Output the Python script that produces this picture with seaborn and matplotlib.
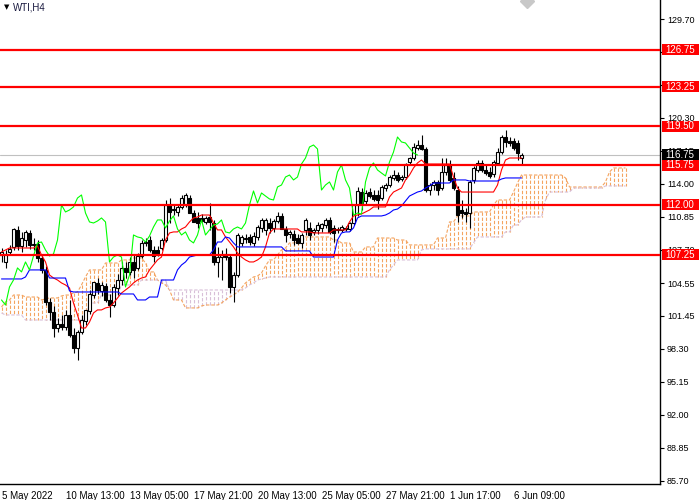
import numpy as np
import pandas as pd
import matplotlib
matplotlib.use("Agg")
import matplotlib.pyplot as plt
import matplotlib.transforms as mtransforms
from matplotlib.patches import Rectangle
import seaborn as sns

symbol = "WTI,H4"

# H4 candles, oldest first
opens = [107.22, 106.56, 107.51, 107.99, 109.61, 108.08, 108.65, 109.32, 108.18, 108.27,
         106.94, 105.80, 102.75, 101.80, 100.27, 100.65, 100.37, 101.51, 99.61, 98.37,
         99.89, 100.94, 101.89, 103.41, 104.56, 103.80, 104.27, 102.94, 102.46, 104.08,
         104.84, 105.99, 105.61, 106.56, 105.99, 107.13, 108.37, 108.65, 107.70, 107.70,
         107.89, 108.65, 111.99, 111.60, 111.32, 111.80, 111.99, 112.65, 111.22, 110.75,
         110.75, 110.37, 110.84, 110.27, 106.56, 107.03, 107.32, 107.03, 104.18, 105.32,
         108.37, 108.75, 108.94, 108.37, 108.94, 109.80, 109.61, 110.27, 109.80, 110.46,
         110.94, 109.70, 109.22, 109.22, 108.85, 108.37, 109.61, 109.80, 109.42, 109.61,
         109.80, 110.08, 110.56, 109.80, 109.61, 109.61, 109.80, 109.70, 110.27, 111.99,
         113.22, 112.37, 113.22, 112.94, 112.94, 112.65, 113.60, 113.89, 114.56, 114.84,
         114.46, 114.65, 116.08, 116.46, 117.41, 117.70, 117.32, 113.41, 113.89, 114.18,
         113.60, 115.13, 115.80, 114.56, 113.41, 111.51, 111.32, 111.22, 114.37, 115.32,
         115.99, 115.32, 115.13, 114.94, 115.99, 117.03, 118.46, 118.08, 118.08, 117.89,
         116.46]
highs = [107.89, 107.70, 108.18, 109.80, 109.99, 109.42, 109.61, 109.61, 108.85, 108.65,
         107.22, 106.18, 103.13, 102.37, 101.22, 101.51, 101.99, 102.94, 100.27, 100.08,
         101.51, 101.99, 103.89, 104.65, 105.03, 104.65, 104.56, 103.51, 104.46, 105.41,
         106.56, 106.56, 107.03, 107.22, 107.41, 108.65, 108.85, 109.03, 108.08, 108.08,
         108.85, 112.46, 112.65, 111.99, 112.08, 112.94, 113.13, 112.94, 111.51, 111.32,
         111.13, 110.94, 112.18, 110.56, 107.99, 107.70, 107.89, 107.32, 105.61, 109.32,
         109.13, 109.22, 109.22, 109.42, 110.08, 110.75, 110.75, 110.75, 110.65, 111.32,
         111.22, 109.99, 109.61, 109.61, 109.22, 109.32, 110.75, 110.37, 109.80, 110.37,
         110.27, 110.75, 110.84, 110.08, 109.89, 110.08, 109.99, 110.37, 112.08, 113.70,
         113.60, 113.41, 113.60, 113.41, 113.41, 113.89, 114.08, 114.84, 115.32, 115.13,
         114.84, 115.99, 116.56, 117.89, 118.18, 118.65, 117.51, 114.08, 114.37, 114.37,
         116.46, 116.46, 116.27, 115.13, 113.80, 112.46, 111.70, 114.37, 115.70, 116.27,
         116.27, 115.80, 115.61, 116.27, 117.41, 118.65, 119.13, 118.46, 118.37, 118.18,
         116.94]
lows = [106.56, 105.99, 107.22, 107.70, 107.70, 107.51, 107.99, 107.80, 107.70, 106.56,
        105.51, 102.46, 101.03, 99.42, 99.89, 100.08, 100.08, 99.42, 97.89, 97.22,
        99.70, 100.56, 101.61, 103.13, 103.51, 103.32, 102.75, 101.32, 102.27, 103.41,
        104.37, 105.03, 105.32, 105.03, 105.80, 106.94, 108.08, 107.51, 106.56, 107.13,
        107.70, 108.46, 110.27, 111.03, 110.94, 111.60, 111.80, 111.22, 110.37, 109.80,
        110.37, 110.18, 109.61, 106.27, 105.13, 104.84, 106.75, 103.60, 102.75, 105.13,
        108.08, 108.37, 108.18, 108.08, 108.65, 109.42, 109.13, 109.32, 109.42, 110.27,
        109.70, 108.46, 108.85, 108.18, 108.27, 107.89, 109.13, 108.65, 109.13, 109.22,
        109.42, 109.80, 109.22, 108.46, 109.32, 109.42, 109.51, 109.51, 110.08, 110.94,
        111.51, 112.08, 112.65, 112.37, 111.60, 112.46, 113.32, 113.70, 114.37, 114.18,
        114.27, 114.46, 115.80, 116.27, 117.22, 117.22, 113.22, 112.94, 113.41, 112.94,
        113.41, 114.84, 114.18, 113.41, 110.37, 110.75, 110.37, 109.80, 114.08, 115.13,
        115.13, 114.84, 114.56, 114.65, 115.80, 116.84, 117.51, 117.60, 117.22, 116.27,
        115.80]
closes = [107.51, 107.32, 107.80, 109.70, 108.08, 108.85, 109.42, 108.18, 108.27, 106.94,
          105.80, 102.75, 101.80, 100.27, 100.65, 100.37, 101.51, 99.61, 98.37, 99.89,
          101.03, 101.99, 103.51, 104.65, 103.89, 104.37, 102.94, 102.46, 104.18, 104.84,
          105.99, 105.61, 106.56, 105.80, 107.13, 108.37, 108.46, 107.70, 107.13, 107.32,
          108.65, 111.99, 111.32, 111.51, 111.80, 112.65, 112.94, 111.22, 110.37, 110.27,
          110.46, 110.75, 110.37, 106.56, 107.03, 107.22, 107.03, 104.18, 105.32, 109.13,
          108.94, 108.85, 108.46, 109.03, 109.89, 110.56, 110.56, 109.80, 110.46, 110.94,
          109.70, 109.13, 109.42, 108.65, 108.37, 109.13, 110.56, 109.13, 109.61, 110.08,
          110.18, 110.56, 109.42, 109.32, 109.70, 109.89, 109.70, 110.27, 111.99, 113.32,
          112.18, 113.13, 112.84, 112.56, 112.46, 113.70, 113.89, 114.65, 114.84, 114.37,
          114.65, 115.89, 116.46, 117.51, 117.70, 117.32, 113.41, 113.89, 114.18, 113.41,
          115.13, 115.80, 114.37, 113.60, 111.03, 111.22, 111.13, 114.18, 115.51, 115.99,
          115.32, 115.03, 114.75, 116.08, 117.03, 118.46, 117.99, 117.89, 117.41, 116.94,
          116.75]

# Ichimoku lines
tenkan = ([107.51, 107.70] + [107.89] * 7 + [108.08, 107.22, 106.56, 105.32, 105.03, 104.84,
          104.56, 104.37, 104.08, 102.65, 101.51, 100.27, 100.27, 100.84, 101.70, 101.99,
          101.99, 102.18, 102.27, 102.65, 103.13, 103.60, 103.89, 104.18, 104.56, 104.84,
          105.03, 105.13, 105.80, 106.27, 106.75, 107.03, 108.65, 109.32, 109.42, 109.42,
          109.70, 109.89, 110.37, 110.75, 110.84] + [111.03] * 3 +
          [110.27, 109.61, 109.61, 108.94, 108.46, 107.99, 107.41, 107.03, 106.75, 106.56,
           106.56, 106.75, 107.03, 107.99, 109.32] + [109.70] * 7 + [109.42] * 3 +
          [109.32] * 5 + [109.61] * 4 + [110.37, 110.94, 111.03, 111.13, 111.32, 111.51] +
          [111.80] * 4 + [112.75, 113.22, 113.41, 113.60, 114.37, 114.84, 115.51, 115.99,
          116.27] + [115.89] * 7 + [114.65, 113.60] + [113.22] * 9 +
          [113.89, 115.32, 116.27] + [116.46] * 4)
kijun = ([104.94] * 6 + [105.13] + [105.80] * 5 + [105.03] * 5 + [103.80] + [103.70] * 12 +
         [103.51] * 4 + [102.94] * 3 + [103.22] * 3 + [104.84] * 4 +
         [105.80, 106.27, 106.56, 107.03, 107.13] + [107.22] * 4 + [107.70] +
         [108.46] * 2 + [108.94, 108.84, 108.37] + [107.99] * 12 + [107.61] * 7 +
         [107.03] * 6 + [108.65, 109.32] + [109.42] * 2 + [109.80, 110.75] +
         [110.94] * 6 + [111.03, 111.22, 111.51, 111.60, 111.89, 112.37, 112.84, 113.03,
         113.22, 113.32, 113.60, 113.80] + [114.08] * 5 + [114.37] * 4 + [114.27] * 8 +
         [114.46] + [114.56] * 5)
span_a = ([102.27, 102.75, 102.94] + [103.41] * 3 + [103.22] * 4 + [102.94, 103.03] +
          [103.13] * 3 + [103.32] + [103.41] * 2 + [103.60, 103.70, 104.37, 105.13] +
          [105.80] * 4 + [106.46] * 4 + [106.75] * 3 + [106.94] * 3 + [106.46] +
          [105.61] * 2 + [104.84, 104.56, 104.37, 103.89] + [102.94] * 3 + [102.18] * 4 +
          [102.37] + [102.46] * 4 +
          [102.65, 102.94, 103.22, 103.41, 103.70, 104.08, 104.56, 104.84, 105.13, 105.22,
           105.51, 106.18] + [106.75] * 2 + [107.22, 107.70, 107.89] + [108.37] * 2 +
          [108.46] * 2 + [108.94] * 7 + [108.65] * 2 + [108.37] * 3 + [107.51] * 3 +
          [107.99] * 3 + [108.84] * 5 + [108.65] * 3 + [108.18] * 7 + [108.84] * 3 +
          [110.37] * 2 + [110.94] * 4 + [111.32] * 5 + [111.99] + [112.46] * 4 +
          [113.22, 114.08, 114.84] + [114.84] * 10 + [114.56] + [113.70] * 9 +
          [114.18, 115.13] + [115.51] * 4)
span_b = ([101.70] + [101.51] * 5 + [101.03] * 16 + [102.65] * 3 + [103.41] * 5 +
          [104.37] * 5 + [104.84] * 7 + [103.89] * 19 +
          [104.08, 104.37, 104.56, 104.84, 104.94, 105.03] + [105.13] * 30 +
          [105.80, 106.27] + [106.75] * 6 + [107.70] + [107.80] * 12 + [108.37] +
          [108.94] * 7 + [109.42] * 2 + [110.08] * 2 + [110.56] + [110.84] * 5 +
          [112.46] + [113.22] * 6 + [113.60] * 8 + [113.80] * 6)
shift = 26

levels = [126.75, 123.25, 119.50, 115.75, 112.00, 107.25]
last_price = 116.75
price_ticks = [129.70, 126.55, 123.40, 120.30, 117.15, 114.00, 110.85, 107.70,
               104.55, 101.45, 98.30, 95.15, 92.00, 88.85, 85.70]
hidden_ticks = [126.55, 123.40]   # covered by the level tags
time_labels = ["5 May 2022", "10 May 13:00", "13 May 05:00", "17 May 21:00",
               "20 May 13:00", "25 May 05:00", "27 May 21:00", "1 Jun 17:00", "6 Jun 09:00"]

sns.set_style("white")
plt.rcParams["font.family"] = ["Liberation Sans", "DejaVu Sans"]

fig = plt.figure(figsize=(7, 5), dpi=100)
ax = fig.add_axes([0, 16 / 500, 660 / 700, 484 / 500])

bars = pd.DataFrame({"o": opens, "h": highs, "l": lows, "c": closes})
bars["i"] = np.arange(len(bars))

# cloud: vertical dashed strokes between the two spans
a = np.array(span_a)
b = np.array(span_b)
ci = np.arange(len(a))
sandy = (0.957, 0.643, 0.376)
thistle = (0.847, 0.749, 0.847)
cloud_cols = [sandy if hi >= lo else thistle for hi, lo in zip(a, b)]
dash = (0, (3.0, 1.6))
ax.vlines(ci, a, b, colors=cloud_cols, linestyles=dash, linewidth=0.8, zorder=1)
sns.lineplot(x=ci, y=a, ax=ax, color=sandy, linewidth=0.8, linestyle=dash,
             zorder=1, legend=False)
sns.lineplot(x=ci, y=b, ax=ax, color=thistle, linewidth=0.8, linestyle=dash,
             zorder=1, legend=False)

# candles
ax.vlines(bars["i"], bars["l"], bars["h"], color="black", linewidth=0.8, zorder=3)
body_lo = bars[["o", "c"]].min(axis=1)
body_h = (bars["c"] - bars["o"]).abs().clip(lower=0.03)
up = bars["c"] >= bars["o"]
ax.bar(bars["i"][up], body_h[up], bottom=body_lo[up], width=0.7,
       facecolor="white", edgecolor="black", linewidth=0.8, zorder=4)
ax.bar(bars["i"][~up], body_h[~up], bottom=body_lo[~up], width=0.7,
       facecolor="black", edgecolor="black", linewidth=0.8, zorder=4)

# tenkan, kijun, chikou
sns.lineplot(x=bars["i"], y=tenkan, ax=ax, color="#FF0000", linewidth=0.8, zorder=5, legend=False)
sns.lineplot(x=bars["i"], y=kijun, ax=ax, color="#0000FF", linewidth=0.8, zorder=5, legend=False)
sns.lineplot(x=bars["i"][:-shift].values, y=bars["c"][shift:].values, ax=ax,
             color="#00FF00", linewidth=0.8, zorder=5, legend=False)

# current price and horizontal levels
ax.axhline(last_price, color="#C0C0C0", linewidth=0.8, zorder=2)
for lv in levels:
    ax.axhline(lv, color="#FF0000", linewidth=1.6, zorder=6)

# bar centres land on pixel centres (4 px per bar)
ax.set_xlim(-0.375, 164.625)
ax.set_ylim(85.41, 131.51)

for s in ["top", "left"]:
    ax.spines[s].set_visible(False)
for s in ["right", "bottom"]:
    ax.spines[s].set_color("black")
    ax.spines[s].set_linewidth(1)

ax.yaxis.tick_right()
ax.set_yticks(price_ticks)
ax.set_yticklabels(["" if p in hidden_ticks else f"{p:.2f}" for p in price_ticks])
ax.tick_params(axis="y", direction="out", length=3, width=0.8, labelsize=6.5, pad=2,
               colors="black")
ax.set_xticks(np.arange(len(time_labels)) * 16)
ax.set_xticklabels(time_labels)
ax.tick_params(axis="x", direction="out", length=3, width=0.8, labelsize=7, pad=2,
               colors="black")
plt.setp(ax.get_xticklabels(), ha="left")
ax.set_xlabel("")
ax.set_ylabel("")

# price tags on the right scale
trans = mtransforms.blended_transform_factory(ax.transAxes, ax.transData)
tag_h = 1.05
tag_x0 = 662 / 660
tag_w = 37 / 660
for lv, fc in [(v, "#FF0000") for v in levels] + [(last_price, "black")]:
    ax.add_patch(Rectangle((tag_x0, lv - tag_h / 2), tag_w, tag_h, transform=trans,
                           facecolor=fc, edgecolor="none", clip_on=False, zorder=9))
    ax.text(tag_x0 + 3 / 660, lv, f"{lv:.2f}", transform=trans, color="white",
            fontsize=7, va="center", ha="left", clip_on=False, zorder=10)

fig.text(4 / 700, 1 - 7 / 500, "\u25bc", fontsize=5, va="center", ha="left", color="black",
         family="DejaVu Sans")
fig.text(13 / 700, 1 - 7 / 500, symbol, fontsize=7, va="center", ha="left", color="#1a1a40")
ax.plot([527 / 660], [1 - 1 / 484], marker="D", ms=7, color="#C8C8C8", transform=ax.transAxes,
        clip_on=True, zorder=11)

fig.savefig("out.png", dpi=100)
